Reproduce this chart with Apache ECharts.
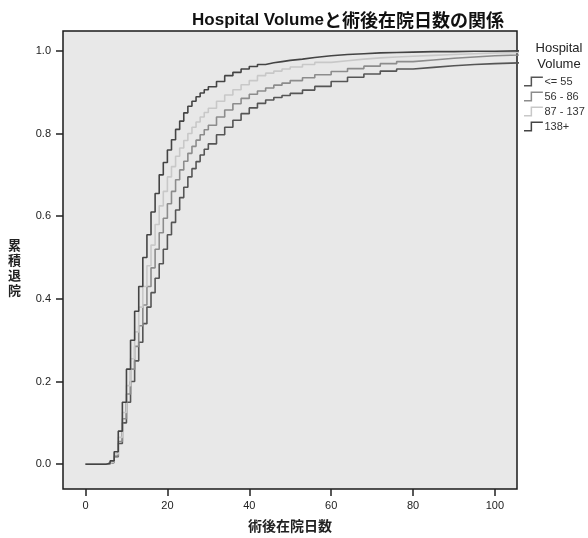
<!DOCTYPE html>
<html>
<head>
<meta charset="utf-8">
<script src="https://cdn.jsdelivr.net/npm/echarts@6/dist/echarts.min.js"></script>
<style>html,body{margin:0;padding:0;background:#fff;}#c{width:588px;height:538px;}</style>
</head>
<body>
<div id="c"></div>
<script>
var days = [0,1,2,3,4,5,6,7,8,9,10,11,12,13,14,15,16,17,18,19,20,21,22,23,24,25,26,27,28,29,30,
  32,34,36,38,40,42,44,46,48,50,53,56,60,64,68,72,76,80,85,90,95,100,106];
var seriesNames = ['<= 55', '56 - 86', '87 - 137', '138+'];
var v55 = [0,0,0,0,0,0.002,0.004,0.018,0.05,0.10,0.15,0.20,0.25,0.295,0.34,0.38,0.415,0.45,0.485,0.52,0.555,0.585,0.615,0.645,0.67,0.695,0.715,0.732,0.748,0.762,0.775,
  0.797,0.815,0.832,0.848,0.862,0.873,0.881,0.887,0.892,0.897,0.905,0.914,0.926,0.936,0.944,0.951,0.956,0.96,0.964,0.967,0.969,0.971,0.972];
var v86 = [0,0,0,0,0,0.002,0.005,0.02,0.055,0.11,0.17,0.23,0.285,0.335,0.385,0.43,0.475,0.52,0.56,0.595,0.63,0.66,0.688,0.712,0.733,0.752,0.769,0.784,0.797,0.809,0.82,
  0.84,0.857,0.872,0.885,0.895,0.903,0.91,0.917,0.922,0.928,0.935,0.942,0.95,0.957,0.963,0.969,0.974,0.978,0.982,0.985,0.988,0.99,0.993];
var v137 = [0,0,0,0,0,0.002,0.006,0.025,0.065,0.125,0.19,0.255,0.32,0.38,0.43,0.48,0.53,0.58,0.625,0.66,0.695,0.72,0.745,0.765,0.783,0.80,0.815,0.828,0.84,0.851,0.861,
  0.878,0.893,0.906,0.918,0.928,0.94,0.946,0.951,0.956,0.961,0.967,0.972,0.976,0.98,0.983,0.985,0.987,0.989,0.991,0.993,0.995,0.996,0.997];
var v138 = [0,0,0,0,0,0.002,0.008,0.03,0.08,0.15,0.23,0.30,0.37,0.43,0.50,0.555,0.61,0.655,0.70,0.73,0.76,0.785,0.81,0.83,0.85,0.866,0.878,0.889,0.898,0.906,0.913,
  0.926,0.94,0.948,0.956,0.962,0.967,0.971,0.974,0.977,0.98,0.984,0.988,0.991,0.993,0.995,0.996,0.997,0.998,0.998,0.999,0.999,1.0,1.0];
var xTicks = [0,20,40,60,80,100];
var yTicks = [0,0.2,0.4,0.6,0.8,1.0];
var colors = ['#555555', '#8c8c8c', '#c8c8c8', '#444444'];

var FONT = '"Liberation Sans", Arial, "Noto Sans CJK JP", sans-serif';
var stepIcon = 'path://M0,9L7,9L7,0L20,0L20,1.6L8.6,1.6L8.6,10.6L0,10.6Z';

function pairs(vals) { return days.map(function (d, i) { return [d, vals[i]]; }); }
var allVals = [v55, v86, v137, v138];

var chart = echarts.init(document.getElementById('c'), null, {renderer: 'canvas'});
chart.setOption({
  backgroundColor: '#ffffff',
  animation: false,
  title: [{
    text: '{a|Hospital Volume}{b|と術後在院日数の関係}',
    left: 343, top: 6, textAlign: 'center',
    textStyle: {
      rich: {
        a: {fontFamily: FONT, fontSize: 17, fontWeight: 'bold', color: '#111'},
        b: {fontFamily: '"Noto Sans CJK JP", sans-serif', fontSize: 18, fontWeight: 'bold', color: '#111'}
      }
    }
  }, {
    text: 'Hospital\nVolume',
    left: 554, top: 35, textAlign: 'center',
    textStyle: {fontFamily: FONT, fontSize: 13, fontWeight: 'normal', color: '#222', lineHeight: 16}
  }],
  legend: {
    orient: 'vertical', left: 519, top: 71,
    itemWidth: 20, itemHeight: 10, itemGap: 4,
    icon: stepIcon,
    textStyle: {fontFamily: FONT, fontSize: 11, color: '#333', padding: [0, 0, 0, -4]},
    data: seriesNames
  },
  grid: {
    left: 63, right: 71, top: 31, bottom: 48,
    show: true, backgroundColor: '#e8e8e8', borderColor: '#1a1a1a', borderWidth: 1.5
  },
  xAxis: {
    type: 'value', min: -5.5, max: 105.4,
    name: '術後在院日数', nameLocation: 'middle', nameGap: 30,
    nameTextStyle: {fontFamily: '"Noto Sans CJK JP", sans-serif', fontSize: 14, fontWeight: 'bold', color: '#222'},
    axisLine: {show: false, onZero: false},
    axisTick: {show: true, inside: false, length: 7, customValues: xTicks, lineStyle: {color: '#222', width: 1.5}},
    axisLabel: {customValues: xTicks, margin: 11, fontFamily: FONT, fontSize: 11, color: '#222'},
    splitLine: {show: false}
  },
  yAxis: {
    type: 'value', min: -0.06, max: 1.048,
    name: '\n累\n積\n退\n院', nameLocation: 'middle', nameGap: 42, nameRotate: 0,
    nameTextStyle: {fontFamily: '"Noto Sans CJK JP", sans-serif', fontSize: 13, fontWeight: 'bold', color: '#222', lineHeight: 15},
    axisLine: {show: false, onZero: false},
    axisTick: {show: true, inside: false, length: 7, customValues: yTicks, lineStyle: {color: '#222', width: 1.5}},
    axisLabel: {customValues: yTicks, margin: 12, fontFamily: FONT, fontSize: 11, color: '#222',
      formatter: function (v) { return v.toFixed(1); }},
    splitLine: {show: false}
  },
  series: seriesNames.map(function (n, i) {
    return {
      name: n, type: 'line', step: 'end', showSymbol: false, symbol: 'none',
      data: pairs(allVals[i]),
      lineStyle: {color: colors[i], width: 1.6},
      itemStyle: {color: colors[i]},
      z: 2 + i
    };
  })
});
</script>
</body>
</html>
